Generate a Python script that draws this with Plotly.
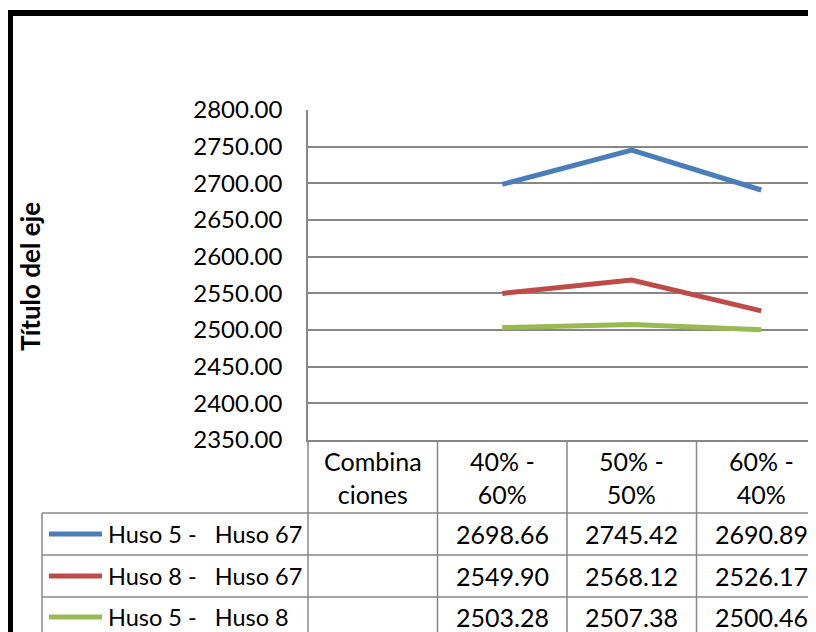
import plotly.graph_objects as go

categories = ["Combinaciones", "40% - 60%", "50% - 50%", "60% - 40%"]
header_labels = ["Combina<br>ciones", "40% -<br>60%", "50% -<br>50%", "60% -<br>40%"]
series_names = ["Huso 5 -\u00a0\u00a0 Huso 67", "Huso 8 -\u00a0\u00a0 Huso 67", "Huso 5 -\u00a0\u00a0 Huso 8"]
huso5_67 = [None, 2698.66, 2745.42, 2690.89]
huso8_67 = [None, 2549.90, 2568.12, 2526.17]
huso5_8 = [None, 2503.28, 2507.38, 2500.46]
series_values = [huso5_67, huso8_67, huso5_8]
colors = ["#4A7EBB", "#BE4B48", "#98B954"]
y_ticks = [2350, 2400, 2450, 2500, 2550, 2600, 2650, 2700, 2750, 2800]

# the page body adds an 8px offset; layout is designed in window pixels
OFF = 8
W, H = 816 - OFF, 632 - OFF
PLOT_L, PLOT_T, PLOT_B = 308, 110, 440     # window pixels
L, T = PLOT_L - OFF, PLOT_T - OFF
B = H - (PLOT_B - OFF)
PH = PLOT_B - PLOT_T
XMIN = -0.5
XMAX = -0.5 + (816 - PLOT_L) / 129.5
FONT = "Lato"
GRID = "#878787"


def px_x(p):
    return (p - PLOT_L) / (816 - PLOT_L)


def px_y(p):
    return (PLOT_B - p) / PH


def data_x(v):
    return (v - XMIN) / (XMAX - XMIN)


fig = go.Figure()
for name, vals, c in zip(series_names, series_values, colors):
    fig.add_trace(go.Scatter(x=categories, y=vals, mode="lines", name=name,
                             line=dict(color=c, width=5), showlegend=False))

shapes = []
annotations = []

row_edges = [440, 513, 555, 597, 640]
left_table = 42
right_px = 840
for ry in row_edges[1:]:
    shapes.append(dict(type="line", xref="paper", yref="paper", x0=px_x(left_table), x1=px_x(right_px),
                       y0=px_y(ry), y1=px_y(ry), line=dict(color=GRID, width=1.5)))
for k in range(len(categories)):
    xv = data_x(k - 0.5)
    shapes.append(dict(type="line", xref="paper", yref="paper", x0=xv, x1=xv,
                       y0=px_y(440), y1=px_y(650), line=dict(color=GRID, width=1.5)))
shapes.append(dict(type="line", xref="paper", yref="paper", x0=px_x(left_table), x1=px_x(left_table),
                   y0=px_y(513), y1=px_y(650), line=dict(color=GRID, width=1.5)))

for k, lab in enumerate(header_labels):
    annotations.append(dict(x=k, xref="x", y=px_y(477), yref="paper", text=lab, showarrow=False,
                            font=dict(family=FONT, size=25, color="black"), align="center",
                            xanchor="center", yanchor="middle"))

row_text_y = [534, 576, 617]
for r, (name, vals, c) in enumerate(zip(series_names, series_values, colors)):
    cy = row_text_y[r]
    shapes.append(dict(type="line", xref="paper", yref="paper", x0=px_x(49), x1=px_x(102),
                       y0=px_y(cy), y1=px_y(cy), line=dict(color=c, width=5)))
    annotations.append(dict(x=px_x(106), xref="paper", y=px_y(cy), yref="paper", text=name,
                            showarrow=False, xanchor="left", yanchor="middle",
                            font=dict(family=FONT, size=23.5, color="black")))
    for k, v in enumerate(vals):
        if v is None:
            continue
        annotations.append(dict(x=k, xref="x", y=px_y(cy), yref="paper", text=f"{v:.2f}",
                                showarrow=False, xanchor="center", yanchor="middle",
                                font=dict(family=FONT, size=25, color="black")))

annotations.append(dict(x=px_x(30), xref="paper", y=px_y(277), yref="paper", text="<b>Título del eje</b>",
                        textangle=-90, showarrow=False, xanchor="center", yanchor="middle",
                        font=dict(family=FONT, size=26, color="black")))

shapes.append(dict(type="rect", xref="paper", yref="paper", x0=px_x(10), x1=px_x(850),
                   y0=px_y(13), y1=px_y(660), line=dict(color="black", width=6), fillcolor="rgba(0,0,0,0)"))

fig.update_layout(
    width=W, height=H,
    margin=dict(l=L, r=0, t=T, b=B, pad=0),
    paper_bgcolor="white", plot_bgcolor="white",
    font=dict(family=FONT, color="black"),
    shapes=shapes, annotations=annotations,
    xaxis=dict(type="category", range=[XMIN, XMAX], showticklabels=False, showgrid=False,
               showline=True, linecolor=GRID, linewidth=1.5, zeroline=False, fixedrange=True),
    yaxis=dict(range=[2350, 2800], tickvals=y_ticks, tickformat=".2f", showgrid=True,
               gridcolor=GRID, gridwidth=1.5, showline=True, linecolor=GRID, linewidth=1.5,
               zeroline=False, ticks="", ticklabelstandoff=19,
               tickfont=dict(family=FONT, size=24, color="black")),
)

fig.write_html("out.html")
